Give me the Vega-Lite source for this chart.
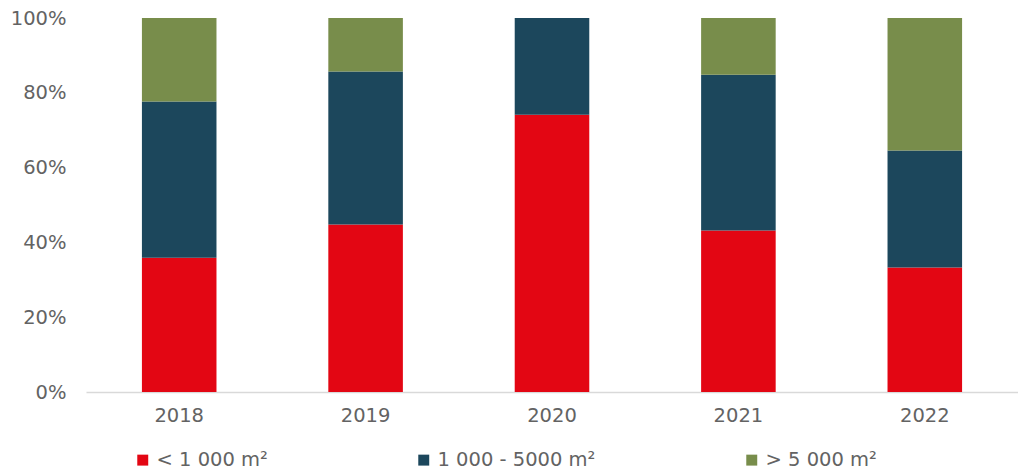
{
  "$schema": "https://vega.github.io/schema/vega-lite/v6.json",
  "width": 932,
  "height": 374,
  "autosize": {"type": "none"},
  "padding": {"left": 86, "top": 18, "right": 0, "bottom": 80},
  "background": "white",
  "config": {
    "view": {"stroke": null},
    "font": "DejaVu Sans",
    "axis": {"labelFont": "DejaVu Sans", "labelFontWeight": 400, "labelColor": "#636363", "labelFontSize": 19.5, "grid": false, "ticks": false, "title": null},
    "legend": {"labelFont": "DejaVu Sans", "labelFontWeight": 400, "labelColor": "#636363", "labelFontSize": 19.5}
  },
  "data": {
    "values": [
      {"year": "2018", "size": "< 1 000 m²", "share": 35.9},
      {"year": "2018", "size": "1 000 - 5000 m²", "share": 41.8},
      {"year": "2018", "size": "> 5 000 m²", "share": 22.3},
      {"year": "2019", "size": "< 1 000 m²", "share": 44.8},
      {"year": "2019", "size": "1 000 - 5000 m²", "share": 40.9},
      {"year": "2019", "size": "> 5 000 m²", "share": 14.3},
      {"year": "2020", "size": "< 1 000 m²", "share": 74.1},
      {"year": "2020", "size": "1 000 - 5000 m²", "share": 25.9},
      {"year": "2020", "size": "> 5 000 m²", "share": 0},
      {"year": "2021", "size": "< 1 000 m²", "share": 43.2},
      {"year": "2021", "size": "1 000 - 5000 m²", "share": 41.6},
      {"year": "2021", "size": "> 5 000 m²", "share": 15.2},
      {"year": "2022", "size": "< 1 000 m²", "share": 33.3},
      {"year": "2022", "size": "1 000 - 5000 m²", "share": 31.3},
      {"year": "2022", "size": "> 5 000 m²", "share": 35.4}
    ]
  },
  "transform": [
    {"calculate": "indexof(['< 1 000 m²', '1 000 - 5000 m²', '> 5 000 m²'], datum.size)", "as": "stackOrder"}
  ],
  "mark": {"type": "bar"},
  "encoding": {
    "x": {
      "field": "year", "type": "ordinal",
      "scale": {"paddingInner": 0.6, "paddingOuter": 0.3},
      "axis": {"labelAngle": 0, "domainColor": "#D9D9D9", "domainWidth": 1.5, "labelPadding": 14}
    },
    "y": {
      "field": "share", "type": "quantitative", "stack": "normalize",
      "scale": {"domain": [0, 1], "nice": false},
      "axis": {"format": ".0%", "values": [0, 0.2, 0.4, 0.6, 0.8, 1], "domain": false, "labelPadding": 20}
    },
    "order": {"field": "stackOrder", "type": "quantitative", "sort": "ascending"},
    "color": {
      "field": "size", "type": "nominal",
      "scale": {"domain": ["< 1 000 m²", "1 000 - 5000 m²", "> 5 000 m²"], "range": ["#E30613", "#1C475C", "#788D4B"]},
      "legend": {"title": null, "orient": "none", "direction": "horizontal", "legendX": 47, "legendY": 432, "symbolType": "square", "symbolSize": 120, "columnPadding": 146, "labelOffset": 4}
    }
  }
}
